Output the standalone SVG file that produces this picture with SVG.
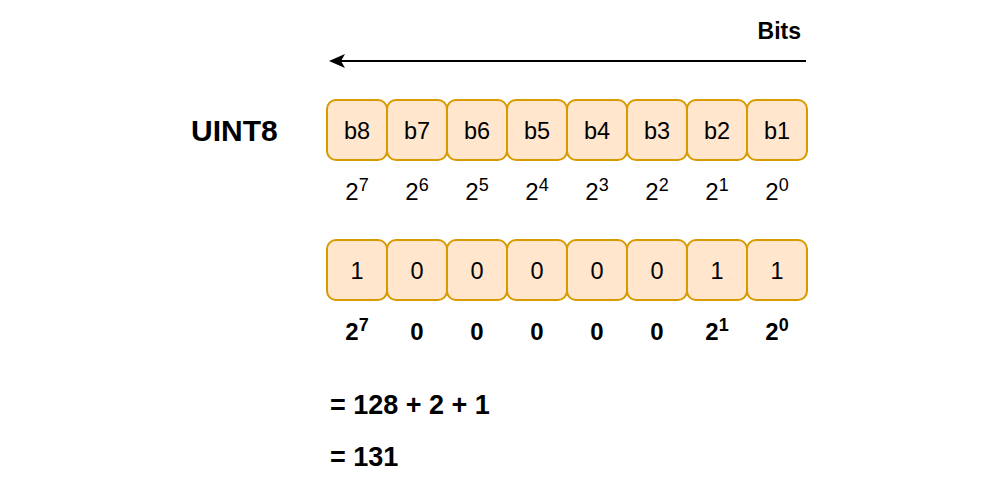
<svg xmlns="http://www.w3.org/2000/svg" width="1000" height="494" viewBox="0 0 1000 494">
<style>
.box{fill:#ffe6cc;stroke:#d79b00;stroke-width:2}
.t{font-family:"Liberation Sans",Arial,sans-serif;font-size:23.5px;fill:#000;text-anchor:middle}
.p{font-family:"Liberation Sans",Arial,sans-serif;font-size:24px;fill:#000;text-anchor:middle}
tspan.s{font-size:18px}
.b{font-weight:bold}
.big{font-family:"Liberation Sans",Arial,sans-serif;font-weight:bold;fill:#000}
.eq{font-family:"Liberation Sans",Arial,sans-serif;font-size:27px;font-weight:bold;fill:#000}
</style>
<defs>
<marker id="ah" markerWidth="16" markerHeight="14" refX="12" refY="7" orient="auto" markerUnits="userSpaceOnUse" viewBox="0 0 16 14">
<path d="M0,0 L16,7 L0,14 L4,7 Z" fill="#000"/>
</marker>
</defs>
<rect width="1000" height="494" fill="#fff"/>
<g id="connectors">
<line x1="806" y1="61" x2="333" y2="61" stroke="#000" stroke-width="2" marker-end="url(#ah)"/>
</g>
<g id="bits-label"><text class="big" x="801" y="39" text-anchor="end" font-size="23">Bits</text></g>
<g id="uint8-label"><text class="big" x="191" y="141" font-size="30">UINT8</text></g>
<g id="row1">
<g id="b8"><rect class="box" x="327" y="100" width="60" height="60" rx="9"/><text class="t" x="357" y="138.5">b8</text></g>
<g id="b7"><rect class="box" x="387" y="100" width="60" height="60" rx="9"/><text class="t" x="417" y="138.5">b7</text></g>
<g id="b6"><rect class="box" x="447" y="100" width="60" height="60" rx="9"/><text class="t" x="477" y="138.5">b6</text></g>
<g id="b5"><rect class="box" x="507" y="100" width="60" height="60" rx="9"/><text class="t" x="537" y="138.5">b5</text></g>
<g id="b4"><rect class="box" x="567" y="100" width="60" height="60" rx="9"/><text class="t" x="597" y="138.5">b4</text></g>
<g id="b3"><rect class="box" x="627" y="100" width="60" height="60" rx="9"/><text class="t" x="657" y="138.5">b3</text></g>
<g id="b2"><rect class="box" x="687" y="100" width="60" height="60" rx="9"/><text class="t" x="717" y="138.5">b2</text></g>
<g id="b1"><rect class="box" x="747" y="100" width="60" height="60" rx="9"/><text class="t" x="777" y="138.5">b1</text></g>
</g>
<g id="powers1">
<text class="p" x="357" y="200">2<tspan class="s" dy="-9">7</tspan></text>
<text class="p" x="417" y="200">2<tspan class="s" dy="-9">6</tspan></text>
<text class="p" x="477" y="200">2<tspan class="s" dy="-9">5</tspan></text>
<text class="p" x="537" y="200">2<tspan class="s" dy="-9">4</tspan></text>
<text class="p" x="597" y="200">2<tspan class="s" dy="-9">3</tspan></text>
<text class="p" x="657" y="200">2<tspan class="s" dy="-9">2</tspan></text>
<text class="p" x="717" y="200">2<tspan class="s" dy="-9">1</tspan></text>
<text class="p" x="777" y="200">2<tspan class="s" dy="-9">0</tspan></text>
</g>
<g id="row2">
<g id="v8"><rect class="box" x="327" y="240" width="60" height="60" rx="9"/><text class="t" x="357" y="278.5">1</text></g>
<g id="v7"><rect class="box" x="387" y="240" width="60" height="60" rx="9"/><text class="t" x="417" y="278.5">0</text></g>
<g id="v6"><rect class="box" x="447" y="240" width="60" height="60" rx="9"/><text class="t" x="477" y="278.5">0</text></g>
<g id="v5"><rect class="box" x="507" y="240" width="60" height="60" rx="9"/><text class="t" x="537" y="278.5">0</text></g>
<g id="v4"><rect class="box" x="567" y="240" width="60" height="60" rx="9"/><text class="t" x="597" y="278.5">0</text></g>
<g id="v3"><rect class="box" x="627" y="240" width="60" height="60" rx="9"/><text class="t" x="657" y="278.5">0</text></g>
<g id="v2"><rect class="box" x="687" y="240" width="60" height="60" rx="9"/><text class="t" x="717" y="278.5">1</text></g>
<g id="v1"><rect class="box" x="747" y="240" width="60" height="60" rx="9"/><text class="t" x="777" y="278.5">1</text></g>
</g>
<g id="powers2">
<text class="p b" x="357" y="340">2<tspan class="s" dy="-9">7</tspan></text>
<text class="p b" x="417" y="340">0</text>
<text class="p b" x="477" y="340">0</text>
<text class="p b" x="537" y="340">0</text>
<text class="p b" x="597" y="340">0</text>
<text class="p b" x="657" y="340">0</text>
<text class="p b" x="717" y="340">2<tspan class="s" dy="-9">1</tspan></text>
<text class="p b" x="777" y="340">2<tspan class="s" dy="-9">0</tspan></text>
</g>
<g id="sum"><text class="eq" x="330" y="414">= 128 + 2 + 1</text></g>
<g id="result"><text class="eq" x="330" y="466">= 131</text></g>
</svg>
